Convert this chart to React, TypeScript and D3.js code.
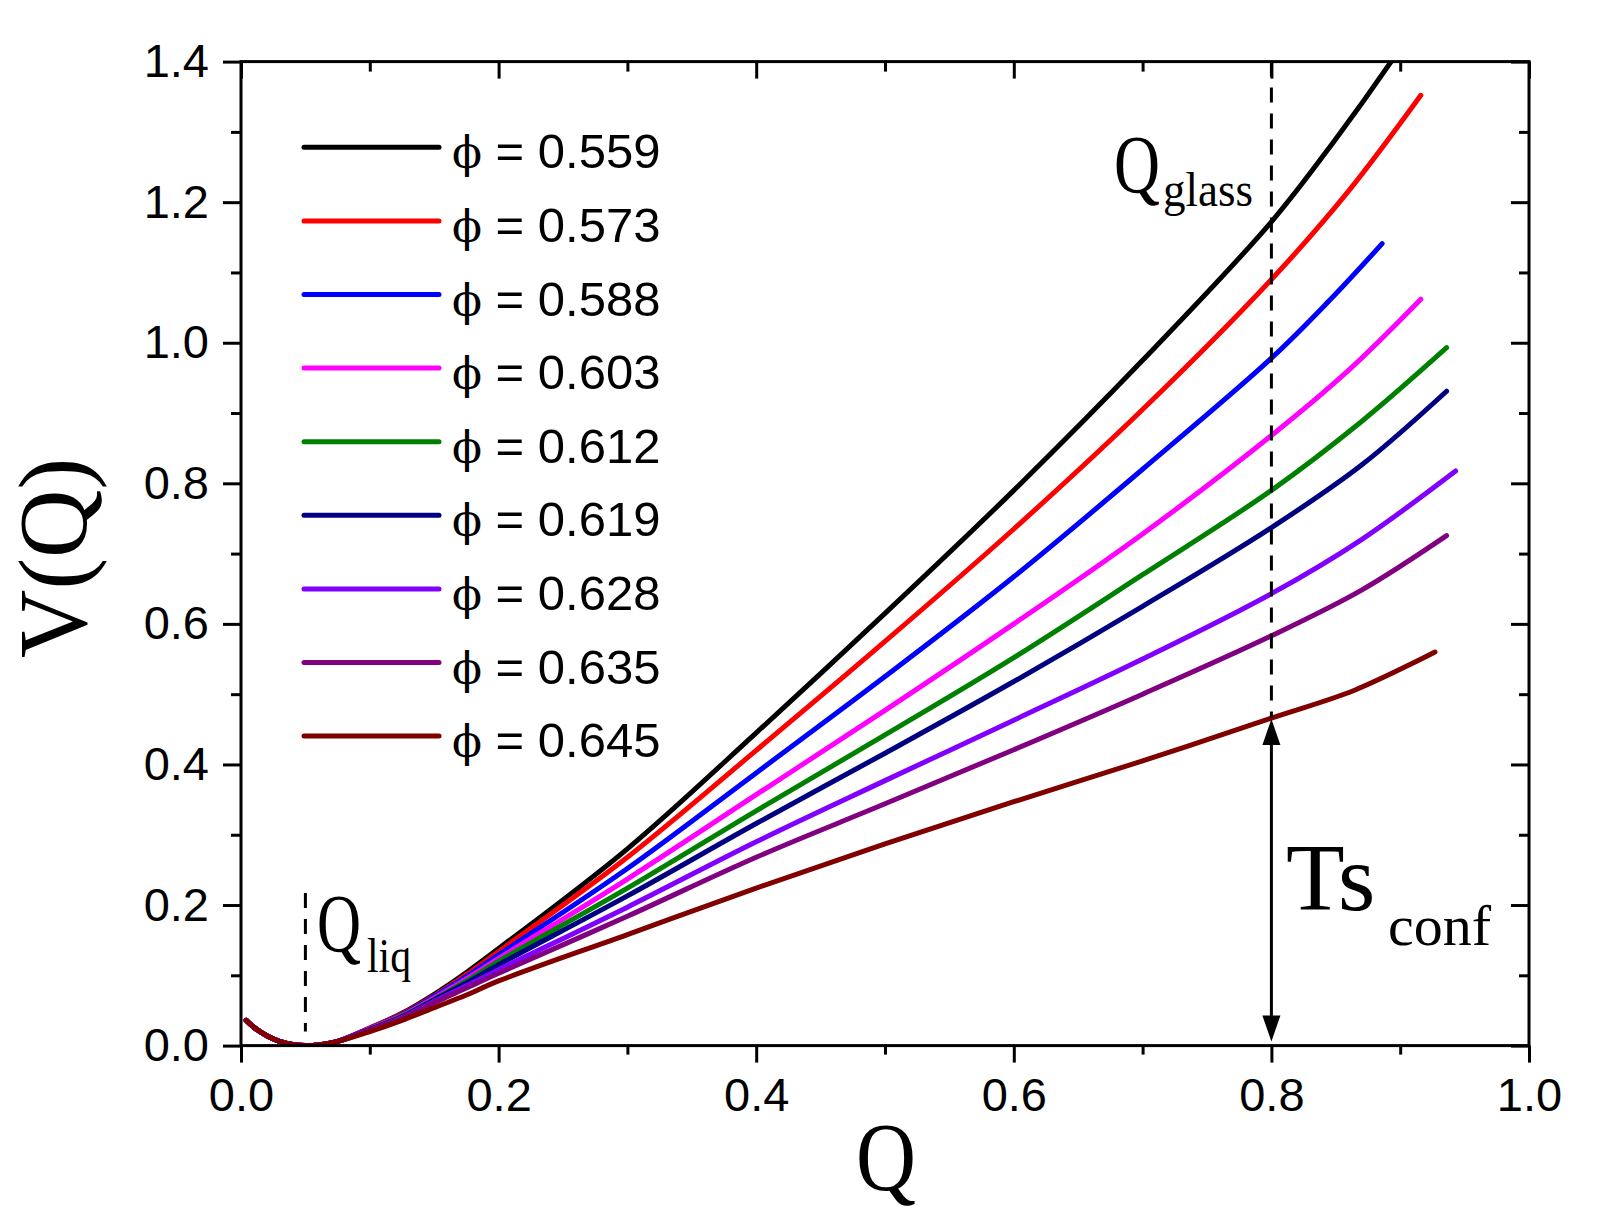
import React, { useEffect, useRef } from 'react';
import * as d3 from 'd3';

// Q grid shared by all curves
const qGrid = [0.004, 0.01, 0.02, 0.03, 0.04, 0.05, 0.06, 0.075, 0.1, 0.125, 0.15, 0.175, 0.2, 0.3, 0.4, 0.5, 0.6, 0.7, 0.8];

const v559 = [0.036, 0.026, 0.014, 0.006, 0.0015, 0, 0.001, 0.006, 0.025, 0.046, 0.073, 0.104, 0.138, 0.28, 0.445, 0.615, 0.79, 0.975, 1.172];
const v573 = [0.036, 0.026, 0.014, 0.006, 0.0015, 0, 0.001, 0.006, 0.025, 0.045, 0.071, 0.101, 0.134, 0.268, 0.42, 0.575, 0.735, 0.905, 1.09];
const v588 = [0.036, 0.026, 0.014, 0.006, 0.0015, 0, 0.001, 0.006, 0.024, 0.044, 0.07, 0.098, 0.129, 0.252, 0.388, 0.525, 0.667, 0.82, 0.978];
const v603 = [0.036, 0.026, 0.014, 0.006, 0.0015, 0, 0.001, 0.006, 0.024, 0.043, 0.068, 0.095, 0.124, 0.237, 0.357, 0.477, 0.6, 0.728, 0.868];
const v612 = [0.036, 0.026, 0.014, 0.006, 0.0015, 0, 0.001, 0.006, 0.023, 0.042, 0.066, 0.092, 0.12, 0.224, 0.334, 0.442, 0.552, 0.67, 0.79];
const v619 = [0.036, 0.026, 0.014, 0.006, 0.0015, 0, 0.001, 0.006, 0.023, 0.041, 0.065, 0.089, 0.115, 0.213, 0.316, 0.416, 0.518, 0.625, 0.737];
const v628 = [0.036, 0.026, 0.014, 0.006, 0.0015, 0, 0.001, 0.006, 0.022, 0.04, 0.063, 0.085, 0.108, 0.197, 0.29, 0.377, 0.463, 0.55, 0.643];
const v635 = [0.036, 0.026, 0.014, 0.006, 0.0015, 0, 0.001, 0.006, 0.022, 0.039, 0.061, 0.082, 0.103, 0.184, 0.268, 0.344, 0.421, 0.5, 0.583];
const v645 = [0.036, 0.026, 0.014, 0.006, 0.0015, 0, 0.001, 0.006, 0.02, 0.036, 0.054, 0.072, 0.092, 0.158, 0.224, 0.287, 0.347, 0.405, 0.466];

// end of each curve past Q = 0.8
const tail559 = [[0.85, 1.29], [0.893, 1.4], [0.91, 1.447]];
const tail573 = [[0.86, 1.216], [0.916, 1.352]];
const tail588 = [[0.845, 1.06], [0.886, 1.141]];
const tail603 = [[0.86, 0.961], [0.916, 1.062]];
const tail612 = [[0.87, 0.888], [0.936, 0.993]];
const tail619 = [[0.87, 0.826], [0.936, 0.931]];
const tail628 = [[0.87, 0.72], [0.943, 0.8175]];
const tail635 = [[0.87, 0.648], [0.936, 0.7255]];
const tail645 = [[0.865, 0.506], [0.927, 0.56]];

const phiLabels = ['0.559', '0.573', '0.588', '0.603', '0.612', '0.619', '0.628', '0.635', '0.645'];
const colors = ['#000000', '#ff0000', '#0000ff', '#ff00ff', '#008000', '#000080', '#8000ff', '#800080', '#800000'];
const values = [v559, v573, v588, v603, v612, v619, v628, v635, v645];
const tails = [tail559, tail573, tail588, tail603, tail612, tail619, tail628, tail635, tail645];

const xMajor = [0, 0.2, 0.4, 0.6, 0.8, 1.0];
const xMinor = [0.1, 0.3, 0.5, 0.7, 0.9];
const yMajor = [0, 0.2, 0.4, 0.6, 0.8, 1.0, 1.2, 1.4];
const yMinor = [0.1, 0.3, 0.5, 0.7, 0.9, 1.1, 1.3];

const qLiq = 0.05;
const qGlass = 0.8;
const tsTop = 0.466;

const App = () => {
  const svgRef = useRef(null);

  useEffect(() => {
    const svg = d3.select(svgRef.current);
    svg.selectAll('*').remove();

    const W = 1609;
    const H = 1232;
    const left = 241, right = 1529, top = 61.6, bottom = 1045.6;

    svg.attr('width', W).attr('height', H);
    svg.append('rect').attr('width', W).attr('height', H).attr('fill', '#fff');

    const x = d3.scaleLinear().domain([0, 1]).range([left, right]);
    const y = d3.scaleLinear().domain([0, 1.4]).range([bottom, top]);

    svg.append('clipPath').attr('id', 'plotClip')
      .append('rect')
      .attr('x', left).attr('y', top)
      .attr('width', right - left).attr('height', bottom - top);

    const sans = 'Liberation Sans, Arial, sans-serif';
    const serif = 'Liberation Serif, Times New Roman, serif';

    // curves
    const line = d3.line()
      .x((d) => x(d[0]))
      .y((d) => y(d[1]))
      .curve(d3.curveCatmullRom.alpha(0.5));

    const plot = svg.append('g').attr('clip-path', 'url(#plotClip)');
    values.forEach((vals, i) => {
      const pts = qGrid.map((q, j) => [q, vals[j]]).concat(tails[i]);
      plot.append('path')
        .datum(pts)
        .attr('fill', 'none')
        .attr('stroke', colors[i])
        .attr('stroke-width', 5)
        .attr('stroke-linecap', 'round')
        .attr('stroke-linejoin', 'round')
        .attr('d', line);
    });

    // dashed markers
    svg.append('line')
      .attr('x1', x(qLiq)).attr('x2', x(qLiq))
      .attr('y1', y(0.217)).attr('y2', y(0.02))
      .attr('stroke', '#000').attr('stroke-width', 3)
      .attr('stroke-dasharray', '15,11');

    svg.append('line')
      .attr('x1', x(qGlass)).attr('x2', x(qGlass))
      .attr('y1', y(1.4)).attr('y2', y(tsTop))
      .attr('stroke', '#000').attr('stroke-width', 3)
      .attr('stroke-dasharray', '15,11');

    // double arrow for Ts_conf
    const ax = x(qGlass);
    const yT = y(tsTop) + 1;
    const yB = y(0) - 4;
    svg.append('line')
      .attr('x1', ax).attr('x2', ax)
      .attr('y1', yT + 20).attr('y2', yB - 20)
      .attr('stroke', '#000').attr('stroke-width', 3);
    svg.append('path')
      .attr('d', `M${ax},${yT} L${ax - 9},${yT + 26} L${ax + 9},${yT + 26} Z`)
      .attr('fill', '#000');
    svg.append('path')
      .attr('d', `M${ax},${yB} L${ax - 9},${yB - 26} L${ax + 9},${yB - 26} Z`)
      .attr('fill', '#000');

    // axes
    const styleAxis = (g) => {
      g.select('.domain').remove();
      g.selectAll('.tick line').attr('stroke', '#000').attr('stroke-width', 3);
      g.selectAll('.tick text')
        .attr('fill', '#000')
        .style('font-family', sans)
        .style('font-size', '47px');
    };

    svg.append('g')
      .attr('transform', `translate(0,${bottom})`)
      .call(d3.axisBottom(x).tickValues(xMajor).tickSize(17).tickPadding(15).tickFormat(d3.format('.1f')))
      .call(styleAxis);
    svg.append('g')
      .attr('transform', `translate(0,${bottom})`)
      .call(d3.axisBottom(x).tickValues(xMinor).tickSize(9).tickFormat(() => ''))
      .call(styleAxis);
    svg.append('g')
      .attr('transform', `translate(0,${top})`)
      .call(d3.axisTop(x).tickValues(xMajor).tickSize(-17).tickFormat(() => ''))
      .call(styleAxis);
    svg.append('g')
      .attr('transform', `translate(0,${top})`)
      .call(d3.axisTop(x).tickValues(xMinor).tickSize(-10).tickFormat(() => ''))
      .call(styleAxis);

    svg.append('g')
      .attr('transform', `translate(${left},0)`)
      .call(d3.axisLeft(y).tickValues(yMajor).tickSize(18).tickPadding(14).tickFormat(d3.format('.1f')))
      .call(styleAxis);
    svg.append('g')
      .attr('transform', `translate(${left},0)`)
      .call(d3.axisLeft(y).tickValues(yMinor).tickSize(10).tickFormat(() => ''))
      .call(styleAxis);
    svg.append('g')
      .attr('transform', `translate(${right},0)`)
      .call(d3.axisRight(y).tickValues(yMajor).tickSize(-18).tickFormat(() => ''))
      .call(styleAxis);
    svg.append('g')
      .attr('transform', `translate(${right},0)`)
      .call(d3.axisRight(y).tickValues(yMinor).tickSize(-10).tickFormat(() => ''))
      .call(styleAxis);

    // frame
    svg.append('rect')
      .attr('x', left).attr('y', top)
      .attr('width', right - left).attr('height', bottom - top)
      .attr('fill', 'none').attr('stroke', '#000').attr('stroke-width', 3);

    // axis titles
    svg.append('text')
      .attr('x', 886).attr('y', 1190)
      .attr('text-anchor', 'middle')
      .attr('textLength', 60).attr('lengthAdjust', 'spacingAndGlyphs')
      .style('font-family', serif).style('font-size', '98px')
      .text('Q');

    svg.append('text')
      .attr('transform', 'translate(86,558) rotate(-90)')
      .attr('text-anchor', 'middle')
      .attr('textLength', 200).attr('lengthAdjust', 'spacingAndGlyphs')
      .style('font-family', serif).style('font-size', '98px')
      .text('V(Q)');

    // legend
    const legend = svg.append('g');
    phiLabels.forEach((lab, i) => {
      const ly = 147.3 + i * 73.6;
      legend.append('line')
        .attr('x1', 304).attr('x2', 439)
        .attr('y1', ly).attr('y2', ly)
        .attr('stroke', colors[i]).attr('stroke-width', 5)
        .attr('stroke-linecap', 'round');
      const t = legend.append('text')
        .attr('x', 452).attr('y', ly + 21)
        .style('font-size', '49px');
      t.append('tspan').style('font-family', 'DejaVu Serif, Liberation Serif, serif').style('font-size', '44px').text('ϕ');
      t.append('tspan').style('font-family', sans).text(` = ${lab}`);
    });

    // annotations
    svg.append('text')
      .attr('x', 317).attr('y', 951)
      .attr('textLength', 44).attr('lengthAdjust', 'spacingAndGlyphs')
      .style('font-family', serif).style('font-size', '82px')
      .text('Q');
    svg.append('text')
      .attr('x', 367).attr('y', 972)
      .attr('textLength', 44).attr('lengthAdjust', 'spacingAndGlyphs')
      .style('font-family', serif).style('font-size', '48px')
      .text('liq');

    svg.append('text')
      .attr('x', 1114).attr('y', 192)
      .attr('textLength', 46).attr('lengthAdjust', 'spacingAndGlyphs')
      .style('font-family', serif).style('font-size', '82px')
      .text('Q');
    svg.append('text')
      .attr('x', 1163).attr('y', 206)
      .attr('textLength', 90).attr('lengthAdjust', 'spacingAndGlyphs')
      .style('font-family', serif).style('font-size', '48px')
      .text('glass');

    svg.append('text')
      .attr('x', 1286).attr('y', 910)
      .style('font-family', serif).style('font-size', '96px')
      .text('Ts');
    svg.append('text')
      .attr('x', 1388).attr('y', 945)
      .style('font-family', serif).style('font-size', '58px')
      .text('conf');
  }, []);

  return (
    <svg ref={svgRef} style={{ position: 'absolute', left: 0, top: 0, display: 'block' }}></svg>
  );
};

export default App;
